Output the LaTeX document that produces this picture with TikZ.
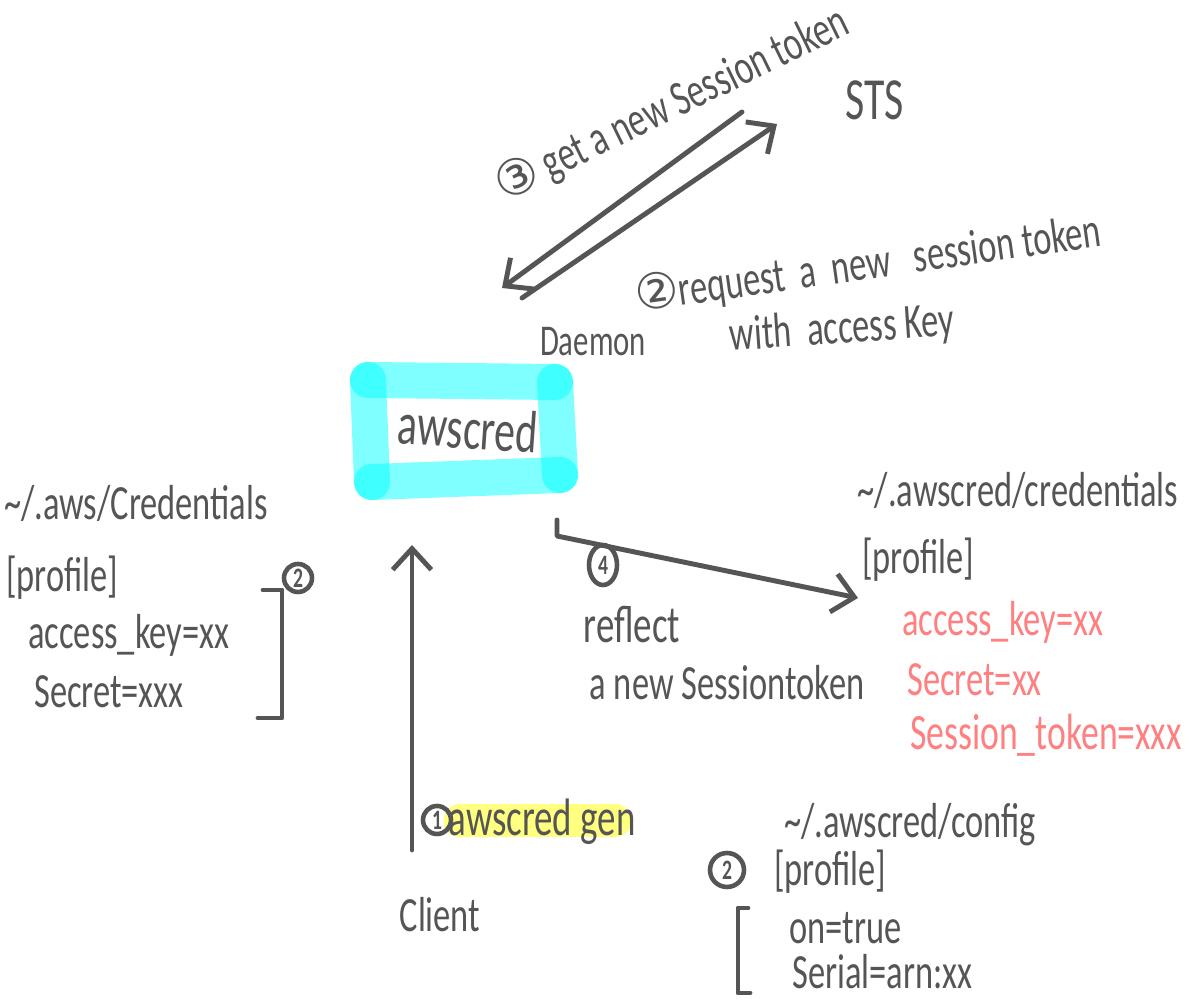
\documentclass[tikz,border=0pt]{standalone}
\usepackage{fontspec}
\setmainfont{Carlito}[FakeStretch=0.7]
\newfontfamily\circfont{DejaVu Sans}
\usetikzlibrary{arrows.meta,shapes.geometric}
\definecolor{penink}{RGB}{85,85,85}
\definecolor{penred}{RGB}{255,128,128}
\definecolor{markcyan}{RGB}{0,255,255}
\definecolor{markyellow}{RGB}{255,255,128}
\begin{document}
\begin{tikzpicture}[
    hand/.style={text=penink,font=\fontsize{14}{16}\selectfont,inner sep=1pt},
    bighand/.style={hand,font=\fontsize{17}{19}\selectfont},
    redhand/.style={hand,text=penred},
    num/.style={draw=penink,circle,line width=1.3pt,inner sep=0.6pt,minimum size=0.28cm,
      text=penink,font=\fontsize{8}{8}\selectfont\bfseries},
    pen/.style={draw=penink,line width=1.4pt,line cap=round,line join=round},
    arr/.style={pen,-{Straight Barb[length=6pt,width=11pt,line width=1.4pt]}},
    marker/.style={draw=markcyan,opacity=0.5,line width=0.36cm,line cap=round}
  ]
    \fill[white] (0,0) rectangle (11.89,-10.00);
    \useasboundingbox (0,0) rectangle (11.89,-10.00);

    \node[hand,rotate=26] (gettok) at (6.72,-1.05) {{\circfont ③} get a new Session token};
    \node[bighand] (sts) at (8.75,-1.00) {STS};
    \coordinate (stsin) at (7.77,-1.24);
    \coordinate (stsout) at (7.42,-1.12);
    \coordinate (daein) at (5.02,-2.88);
    \coordinate (daeout) at (5.22,-2.98);
    \draw[arr] (stsout) -- (daein);
    \draw[arr] (daeout) -- (stsin);

    \node[hand,rotate=8] (reqtok) at (8.68,-2.65) {{\circfont ②}request\ \ a\ \ new\ \ \ session token};
    \node[hand,rotate=4] (withkey) at (8.42,-3.30) {with\ \ access Key};
    \node[hand,font=\fontsize{12.5}{14}\selectfont] (daemon) at (5.93,-3.42) {Daemon};

    \coordinate (boxtl) at (3.68,-3.80);
    \coordinate (boxtr) at (5.55,-3.82);
    \coordinate (boxbr) at (5.60,-4.75);
    \coordinate (boxbl) at (3.72,-4.82);
    \draw[marker] (boxtl) -- (boxtr);
    \draw[marker] (boxtr) -- (boxbr);
    \draw[marker] (boxbr) -- (boxbl);
    \draw[marker] (boxbl) -- (boxtl);
    \node[bighand,rotate=-4] (awscred) at (4.68,-4.28) {awscred};

    \node[hand] (awscf) at (1.36,-5.03) {\textasciitilde/.aws/Credentials};
    \node[hand,anchor=west] (lprof) at (0.02,-5.78) {[profile]};
    \node[hand,anchor=west] (lkey) at (0.24,-6.35) {access\_key=xx};
    \node[hand,anchor=west] (lsec) at (0.30,-6.92) {Secret=xxx};
    \draw[pen] (2.63,-5.90) -- (2.82,-5.90) -- (2.82,-7.18) -- (2.58,-7.18);
    \node[num] (lnum) at (2.98,-5.78) {2};

    \node[hand] (client) at (4.40,-9.15) {Client};
    \coordinate (clitop) at (4.12,-5.45);
    \coordinate (clibot) at (4.12,-8.50);
    \draw[arr] (clibot) -- (clitop);
    \draw[markyellow,line width=0.33cm,line cap=round] (4.60,-8.21) -- (6.15,-8.21);
    \node[num] (gennum) at (4.37,-8.20) {1};
    \node[hand,font=\fontsize{15}{17}\selectfont] (gen) at (5.42,-8.22) {awscred gen};

    \coordinate (reflout) at (5.57,-5.20);
    \coordinate (reflin) at (8.58,-5.98);
    \draw[arr] (reflout) -- (5.57,-5.36) -- (reflin);
    \node[num,ellipse,minimum height=0.40cm] (reflnum) at (6.03,-5.65) {4};
    \node[hand,font=\fontsize{15}{17}\selectfont] (reflect) at (6.32,-6.25) {reflect};
    \node[hand] (newtok) at (7.27,-6.83) {a new Sessiontoken};

    \node[hand] (acf) at (10.18,-4.90) {\textasciitilde/.awscred/credentials};
    \node[hand,anchor=west] (rprof) at (8.58,-5.60) {[profile]};
    \node[redhand,anchor=west] (rkey) at (8.98,-6.22) {access\_key=xx};
    \node[redhand,anchor=west] (rsec) at (9.03,-6.80) {Secret=xx};
    \node[redhand,anchor=west,font=\fontsize{14.5}{16}\selectfont] (rtok) at (9.06,-7.35) {Session\_token=xxx};

    \node[hand] (acconf) at (9.10,-8.25) {\textasciitilde/.awscred/config};
    \node[num,minimum size=0.34cm] (cnum) at (7.27,-8.70) {2};
    \node[hand,anchor=west] (cprof) at (7.70,-8.72) {[profile]};
    \node[hand,anchor=west] (con) at (7.85,-9.28) {on=true};
    \node[hand,anchor=west] (cser) at (7.88,-9.72) {Serial=arn:xx};
    \draw[pen] (7.48,-9.08) -- (7.38,-9.08) -- (7.38,-9.93) -- (7.50,-9.93);
  \end{tikzpicture}
\end{document}
